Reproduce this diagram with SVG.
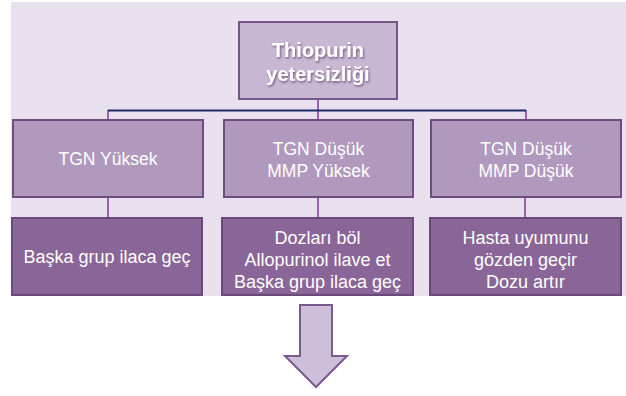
<svg xmlns="http://www.w3.org/2000/svg" width="626" height="396" viewBox="0 0 626 396">
<defs>
<filter id="sh" x="-10%" y="-10%" width="130%" height="140%">
<feDropShadow dx="1" dy="1.5" stdDeviation="0.8" flood-color="#5a4068" flood-opacity="0.8"/>
</filter>
</defs>
<style>
.t{font-family:"Liberation Sans",Arial,sans-serif;fill:#ffffff;text-anchor:middle}
.top{fill:#C9B8D4;stroke:#765689;stroke-width:2}
.mid{fill:#B099BD;stroke:#6E4E80;stroke-width:2}
.low{fill:#8A6698;stroke:#6A4A7B;stroke-width:2}
.vc{stroke:#9B62B2;stroke-width:2;fill:none}
</style>
<rect x="11" y="2" width="615" height="294" fill="#E9E1EE"/>
<g id="connectors">
<line class="vc" x1="318" y1="99" x2="318" y2="120"/>
<line class="vc" x1="108" y1="110" x2="108" y2="120"/>
<line class="vc" x1="526" y1="110" x2="526" y2="120"/>
<line x1="108" y1="110.5" x2="526" y2="110.5" stroke="#1B2A66" stroke-width="2"/>
<line class="vc" x1="108" y1="197" x2="108" y2="218"/>
<line class="vc" x1="318" y1="197" x2="318" y2="218"/>
<line class="vc" x1="525" y1="197" x2="525" y2="218"/>
</g>
<g id="n-top">
<rect class="top" x="239" y="22" width="158" height="77"/>
<g filter="url(#sh)">
<text class="t" x="318" y="57" font-size="20" font-weight="bold">Thiopurin</text>
<text class="t" x="318" y="81" font-size="20" font-weight="bold">yetersizliği</text>
</g>
</g>
<g id="n-m1">
<rect class="mid" x="13" y="120" width="190" height="77"/>
<text class="t" x="108" y="165" font-size="17.5">TGN Yüksek</text>
</g>
<g id="n-m2">
<rect class="mid" x="224" y="120" width="189" height="77"/>
<text class="t" x="318.5" y="155" font-size="17.5">TGN Düşük</text>
<text class="t" x="318.5" y="177" font-size="17.5">MMP Yüksek</text>
</g>
<g id="n-m3">
<rect class="mid" x="431" y="120" width="190" height="77"/>
<text class="t" x="526" y="155" font-size="17.5">TGN Düşük</text>
<text class="t" x="526" y="177" font-size="17.5">MMP Düşük</text>
</g>
<g id="n-l1">
<rect class="low" x="12" y="218" width="190" height="77"/>
<text class="t" x="107" y="263" font-size="18">Başka grup ilaca geç</text>
</g>
<g id="n-l2">
<rect class="low" x="222" y="218" width="191" height="77"/>
<text class="t" x="317.5" y="244" font-size="18">Dozları böl</text>
<text class="t" x="317.5" y="266" font-size="18">Allopurinol ilave et</text>
<text class="t" x="317.5" y="288" font-size="18">Başka grup ilaca geç</text>
</g>
<g id="n-l3">
<rect class="low" x="430" y="218" width="191" height="77"/>
<text class="t" x="525.5" y="244" font-size="18">Hasta uyumunu</text>
<text class="t" x="525.5" y="266" font-size="18">gözden geçir</text>
<text class="t" x="525.5" y="288" font-size="18">Dozu artır</text>
</g>
<g id="n-arrow">
<polygon points="300,305 332,305 332,356 347,356 316,387 285,356 300,356" fill="#CDBEDA" stroke="#7A5A8C" stroke-width="2" stroke-linejoin="miter"/>
</g>
</svg>
